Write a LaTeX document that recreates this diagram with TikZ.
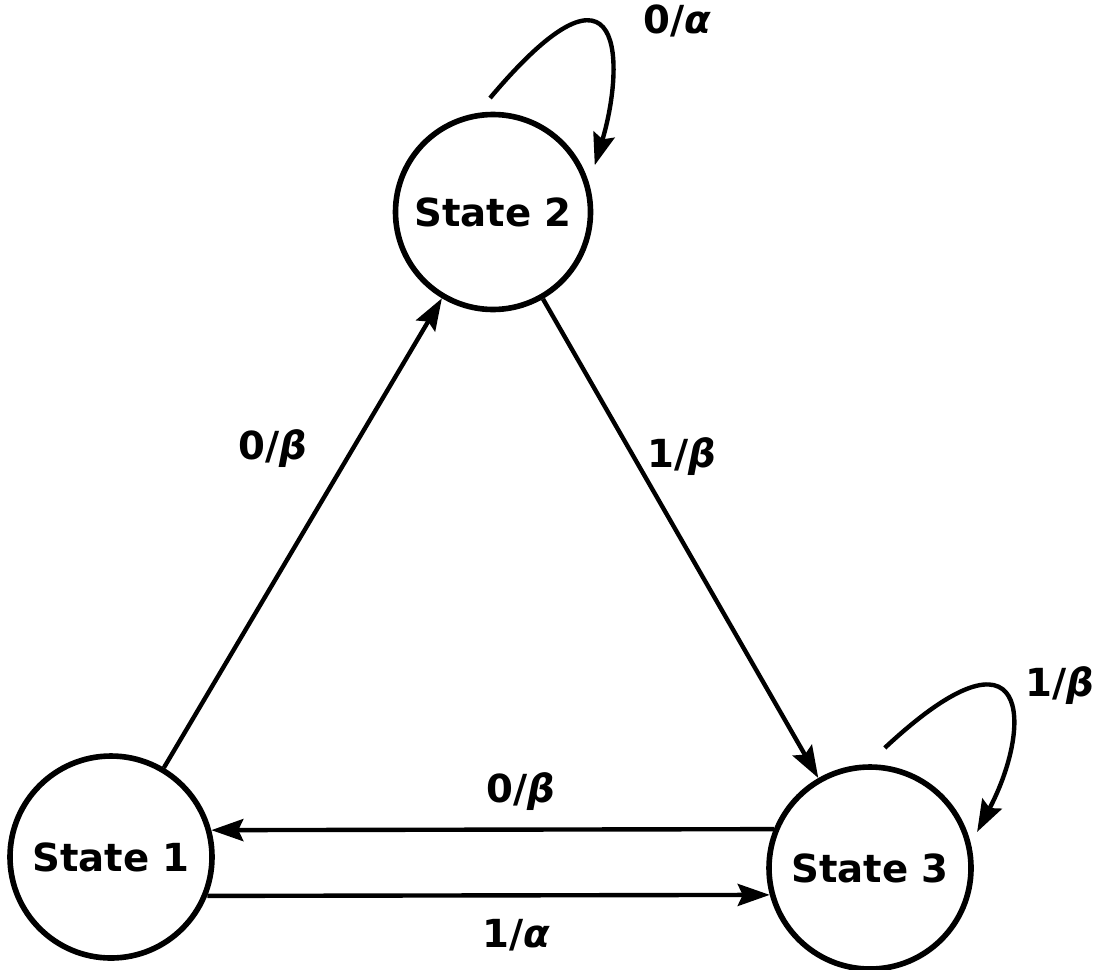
\documentclass[tikz,border=0pt]{standalone}
\usepackage{fontspec}
\setmainfont{DejaVu Sans}
\usetikzlibrary{arrows.meta,calc}
\tikzset{
  state/.style={circle,draw,line width=1.6pt,minimum size=2.02cm,inner sep=0pt,font=\fontsize{11}{13}\bfseries},
  trans/.style={line width=1.25pt,-{Stealth[length=0.32cm,width=0.22cm,inset=0.05cm]}},
  lbl/.style={font=\fontsize{11}{13}\bfseries}
}
\begin{document}
\begin{tikzpicture}
  \useasboundingbox (0,0) rectangle (11.01,9.69);
  \node[state] (s1) at (1.11,1.12) {State 1};
  \node[state,minimum size=1.95cm] (s2) at (4.93,7.57) {State 2};
  \node[state] (s3) at (8.70,1.01) {State 3};
  \draw[trans] (s1) -- (s2) node[lbl,pos=0.68,left=0.32cm] {0/\textit{β}};
  \draw[trans] (s2) -- (s3) node[lbl,pos=0.33,right=0cm] {1/\textit{β}};
  \draw[trans] (s3.158) -- (s1.15) node[lbl,pos=0.45,above=0.05cm] {0/\textit{β}};
  \draw[trans] (s1.-22) -- (s3.-165) node[lbl,pos=0.55,below=0.1cm] {1/\textit{α}};
  \draw[trans] ($(s2)+(91.5:1.14)$) .. controls +(1.38,1.64) and +(0.29,0.96) .. ($(s2)+(24.7:1.12)$)
    node[lbl,pos=0.35,right=0.42cm] {0/\textit{α}};
  \draw[trans] ($(s3)+(83:1.21)$) .. controls +(1.47,1.37) and +(0.56,1.06) .. ($(s3)+(18.6:1.13)$)
    node[lbl,pos=0.35,right=0.22cm] {1/\textit{β}};
\end{tikzpicture}
\end{document}
